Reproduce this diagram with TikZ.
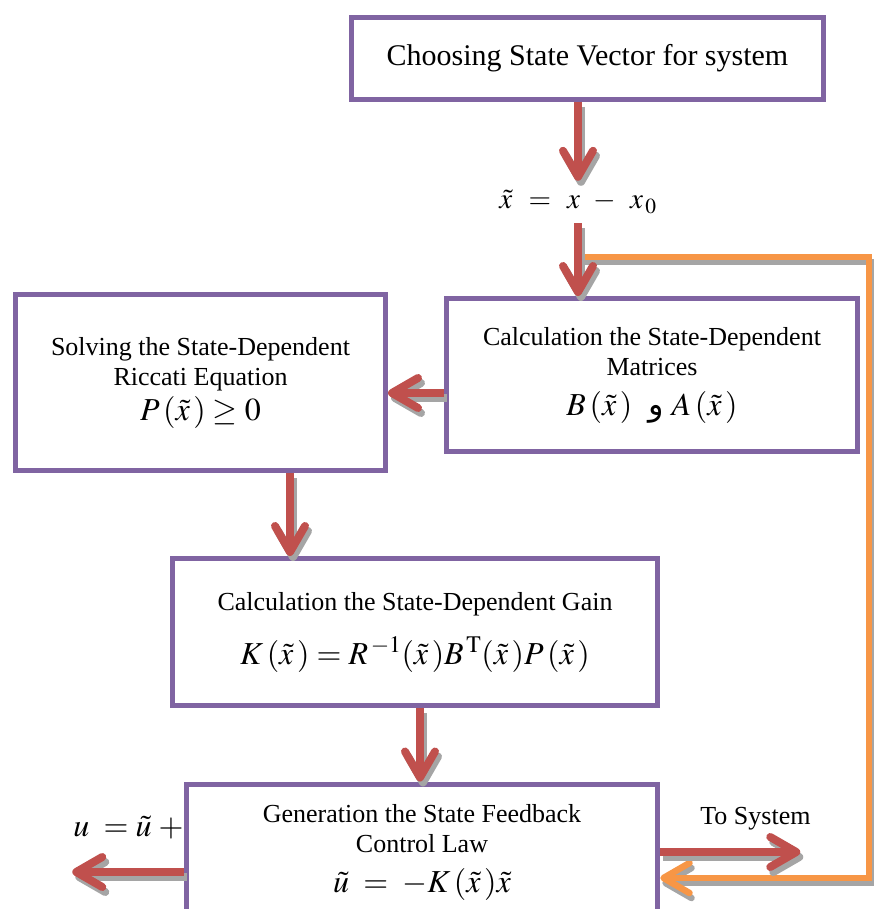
\documentclass[tikz,border=0pt]{standalone}
\usepackage{mathptmx}
\usepackage[no-math]{fontspec}
\setmainfont{Liberation Serif}
\newfontfamily\arabicfont[Script=Arabic]{DejaVu Sans}
\TeXXeTstate=1
\usetikzlibrary{positioning, arrows.meta}
\definecolor{boxline}{HTML}{8064A2}
\definecolor{arrred}{HTML}{C0504D}
\definecolor{fborange}{HTML}{F79646}
\definecolor{shade}{HTML}{A5A5A5}
\newcommand{\eqsize}{\fontsize{32}{36}\selectfont}

\begin{document}
\begin{tikzpicture}[
    x=1pt, y=-1pt,
    every node/.style={font=\fontsize{26}{30}\selectfont},
    block/.style={rectangle, draw=boxline, line width=5pt, fill=white,
                  align=center, inner sep=0pt},
    eqn/.style={font=\eqsize},
    arr/.style={draw=arrred, line width=8pt,
                -{Straight Barb[length=26pt, width=30pt, round]},
                preaction={draw=shade, line width=8pt,
                           -{Straight Barb[length=26pt, width=30pt, round]},
                           transform canvas={xshift=3pt, yshift=-5pt}}},
    fbarr/.style={draw=fborange, line width=6.5pt,
                  -{Straight Barb[length=26pt, width=30pt, round]},
                  preaction={draw=shade, line width=6.5pt,
                             -{Straight Barb[length=26pt, width=30pt, round]},
                             transform canvas={xshift=2pt, yshift=-5pt}}},
    lbl/.style={inner sep=0pt}
]
\path[use as bounding box, fill=white] (0,0) rectangle (875,909);
\clip (0,0) rectangle (875,909);

% Top box
\node[block, minimum width=472pt, minimum height=82pt,
      font=\fontsize{30}{34}\selectfont] (choose) at (587.5,58.5)
  {\raisebox{3pt}{Choosing State Vector for system}};

% Error state
\node[lbl, font=\fontsize{29}{33}\selectfont, minimum height=42pt] (xt) at (578,202)
  {$\tilde{x}\;\,=\;\,x\;\,-\;\,x_{\,0}$};

% Matrices and Riccati
\node[block, minimum width=411pt, minimum height=153pt] (calc) at (652,375)
  {Calculation the State-Dependent\\ Matrices\\[10pt]
   {\eqsize $B\,(\tilde{x}\,)$\ \ {\arabicfont\beginR و\endR}\ $A\,(\tilde{x}\,)$}};
\node[block, minimum width=370pt, minimum height=176pt] (solve) at (200.5,382.5)
  {Solving the State-Dependent\\ Riccati Equation\\[5pt]
   {\eqsize $P\,(\tilde{x}\,)\geq 0$}};

% Gain
\node[block, minimum width=485pt, minimum height=147pt] (gain) at (415,632)
  {Calculation the State-Dependent Gain\\[20pt]
   {\eqsize $K\,(\tilde{x}\,) = R^{\,-1}(\tilde{x}\,)B^{\,\mathrm{T}}(\tilde{x}\,)P\,(\tilde{x}\,)$}};

% Control law
\node[block, minimum width=471.5pt, minimum height=136pt] (law) at (422,852)
  {Generation the State Feedback\\ Control Law\\[10pt]
   {\eqsize $\tilde{u}\;=\;-K\,(\tilde{x}\,)\tilde{x}$}};
\node[lbl, eqn, anchor=east] (ueq) at ([yshift=24pt]law.west) {$u\;=\tilde{u}\;+$};

% Free ends
\coordinate (uout) at ([xshift=-111.5pt, yshift=-20pt]law.west);
\coordinate (sys) at ([xshift=140pt]law.east);
\coordinate (fbin) at (583,257);
\coordinate (fbcorner) at (869,257);

% Arrows
\draw[fbarr] (fbin) -- (fbcorner) |- ([yshift=-26pt]law.east);
\draw[arr] (choose.south -| xt.north) -- (xt.north);
\draw[arr] (xt.south) -- (xt.south |- calc.north);
\draw[arr] ([yshift=-18pt]calc.west) -- ([yshift=-18pt]calc.west -| solve.east);
\draw[arr] ([xshift=89.5pt]solve.south) -- ([xshift=89.5pt]solve.south |- gain.north);
\draw[arr] ([xshift=5pt]gain.south) -- ([xshift=5pt]gain.south |- law.north);
\draw[arr] ([yshift=-20pt]law.west) -- (uout);
\draw[arr] (law.east) -- node[lbl, pos=0.68, above=18pt] (tosys) {To System} (sys);

\end{tikzpicture}
\end{document}
